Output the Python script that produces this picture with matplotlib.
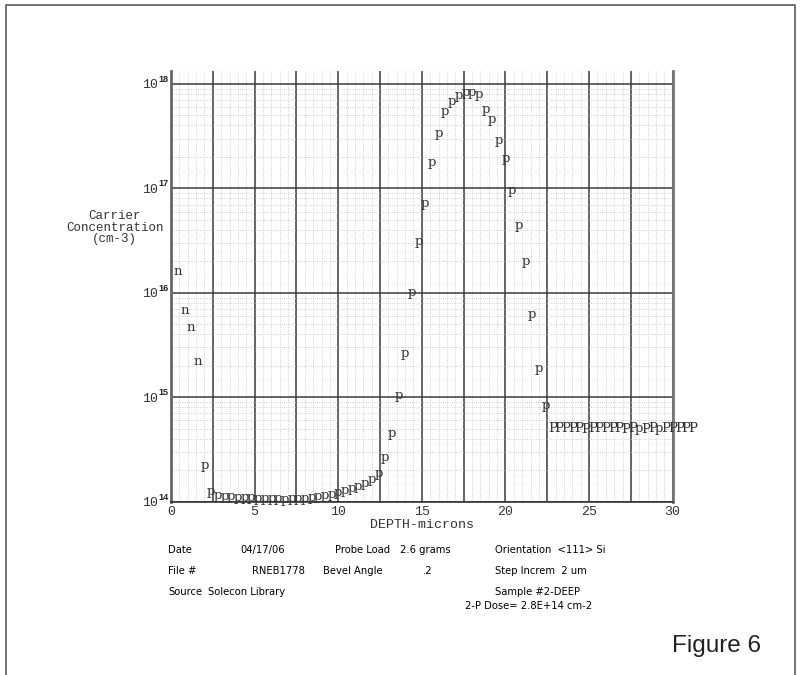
import numpy as np
import matplotlib.pyplot as plt
from matplotlib.ticker import MultipleLocator, LogLocator, NullFormatter
from matplotlib.lines import Line2D

# spreading resistance profile, one point every 0.4 um
depth = [0.4, 0.8, 1.2, 1.6, 2.0, 2.4, 2.8, 3.2, 3.6, 4.0,
         4.4, 4.8, 5.2, 5.6, 6.0, 6.4, 6.8, 7.2, 7.6, 8.0,
         8.4, 8.8, 9.2, 9.6, 10.0, 10.4, 10.8, 11.2, 11.6, 12.0,
         12.4, 12.8, 13.2, 13.6, 14.0, 14.4, 14.8, 15.2, 15.6, 16.0,
         16.4, 16.8, 17.2, 17.6, 18.0, 18.4, 18.8, 19.2, 19.6, 20.0,
         20.4, 20.8, 21.2, 21.6, 22.0, 22.4, 22.8, 23.2, 23.6, 24.0,
         24.4, 24.8, 25.2, 25.6, 26.0, 26.4, 26.8, 27.2, 27.6, 28.0,
         28.4, 28.8, 29.2, 29.6, 30.0, 30.4, 30.8, 31.2]
conc = [1.6e16, 6.8e15, 4.7e15, 2.2e15, 2.2e14, 1.26e14, 1.15e14, 1.12e14, 1.11e14, 1.10e14,
        1.10e14, 1.09e14, 1.08e14, 1.08e14, 1.07e14, 1.07e14, 1.06e14, 1.07e14, 1.07e14, 1.08e14,
        1.09e14, 1.11e14, 1.14e14, 1.18e14, 1.23e14, 1.29e14, 1.35e14, 1.41e14, 1.50e14, 1.62e14,
        1.86e14, 2.66e14, 4.5e14, 1.05e15, 2.65e15, 1.0e16, 3.1e16, 7.1e16, 1.78e17, 3.38e17,
        5.4e17, 6.8e17, 7.7e17, 8.2e17, 8.2e17, 8.0e17, 5.65e17, 4.6e17, 2.9e17, 1.93e17,
        9.5e16, 4.4e16, 2.0e16, 6.2e15, 1.9e15, 8.3e14, 5.0e14, 5.0e14, 5.0e14, 5.0e14,
        5.0e14, 4.9e14, 5.0e14, 5.0e14, 5.0e14, 5.0e14, 5.0e14, 4.9e14, 5.0e14, 5.0e14,
        4.9e14, 5.0e14, 5.0e14, 5.0e14, 5.0e14, 5.0e14, 5.0e14, 5.0e14]
marks = list('nnnn') + list('p' * 52) + list('PPPPPPPPPPPPPpPPpPPPPP')

decades = [14, 15, 16, 17, 18]
grid_x = [0, 2.5, 5, 7.5, 10, 12.5, 15, 17.5, 20, 22.5, 25, 27.5, 30]

info = [
    (168, 550, 'Date'), (240, 550, '04/17/06'), (335, 550, 'Probe Load'),
    (400, 550, '2.6 grams'), (495, 550, 'Orientation  <111> Si'),
    (168, 571, 'File #'), (252, 571, 'RNEB1778'), (323, 571, 'Bevel Angle'),
    (423, 571, '.2'), (495, 571, 'Step Increm  2 um'),
    (168, 592, 'Source'), (208, 592, 'Solecon Library'), (495, 592, 'Sample #2-DEEP'),
    (465, 606, '2-P Dose= 2.8E+14 cm-2'),
]

W, H = 807, 675
mono = 'Liberation Mono'
fig = plt.figure(figsize=(W / 100, H / 100), dpi=100)
ax = fig.add_axes([171 / W, 1 - 501.7 / H, 501.7 / W, 430.7 / H])

ax.set_yscale('log')
ax.set_xlim(0, 30)
ax.set_ylim(1e14, 1.33e18)

ax.set_xticks(grid_x, labels=[f'{v:g}' if v % 5 == 0 else '' for v in grid_x],
              fontfamily=mono, fontsize=9.5, color='#333')
ax.set_yticks([10.0 ** d for d in decades], labels=['10'] * len(decades),
              fontfamily=mono, fontsize=9.5, color='#333')
ax.xaxis.set_minor_locator(MultipleLocator(0.5))
ax.yaxis.set_minor_locator(LogLocator(base=10, subs=range(2, 10), numticks=20))
ax.yaxis.set_minor_formatter(NullFormatter())
ax.tick_params(which='both', length=0)
ax.tick_params(axis='y', pad=9)
ax.tick_params(axis='x', pad=3)

for d in decades:
    ax.annotate(str(d), xy=(0, 10.0 ** d), xycoords=('axes fraction', 'data'),
                xytext=(-2, 1.5), textcoords='offset points', ha='right', va='baseline',
                fontsize=6.5, fontweight='bold', fontfamily='Liberation Sans', color='#222')

ax.grid(which='major', color='#3a3a3a', lw=1.1)
ax.grid(which='minor', color='#c2c2c2', ls=':', lw=0.6)
ax.set_axisbelow(True)

ax.spines['top'].set_visible(False)
ax.spines['left'].set_color('#666')
ax.spines['left'].set_linewidth(2)
ax.spines['right'].set_color('#777')
ax.spines['right'].set_linewidth(2)
ax.spines['bottom'].set_color('#333')
ax.spines['bottom'].set_linewidth(1.2)

for x, y, m in zip(depth, conc, marks):
    ax.text(x, y, m, ha='center', va='center', fontsize=9.5, fontfamily='DejaVu Serif',
            color='#333', clip_on=False)

ax.set_xlabel('DEPTH-microns', fontfamily=mono, fontsize=9.5, color='#333', labelpad=1)
ax.set_ylabel('Carrier\nConcentration\n(cm-3)', fontfamily=mono, fontsize=9,
              color='#333', rotation=0, ha='center', va='center', linespacing=0.95)
ax.yaxis.set_label_coords(-0.112, 0.636)

for x, y, s in info:
    fig.text(x / W, 1 - y / H, s, ha='left', va='center', fontsize=7.2,
             family=['Liberation Sans Narrow', 'DejaVu Sans'], color='#000')

fig.text(672 / W, 1 - 646 / H, 'Figure 6', ha='left', va='center', fontsize=17.5,
         fontfamily='Liberation Sans', color='#222')

# page frame
fig.add_artist(Line2D([6 / W, 6 / W, 795 / W, 795 / W], [0, 1 - 5 / H, 1 - 5 / H, 0],
                      transform=fig.transFigure, color='#666', lw=1.3))

fig.savefig('out.png', dpi=100)
